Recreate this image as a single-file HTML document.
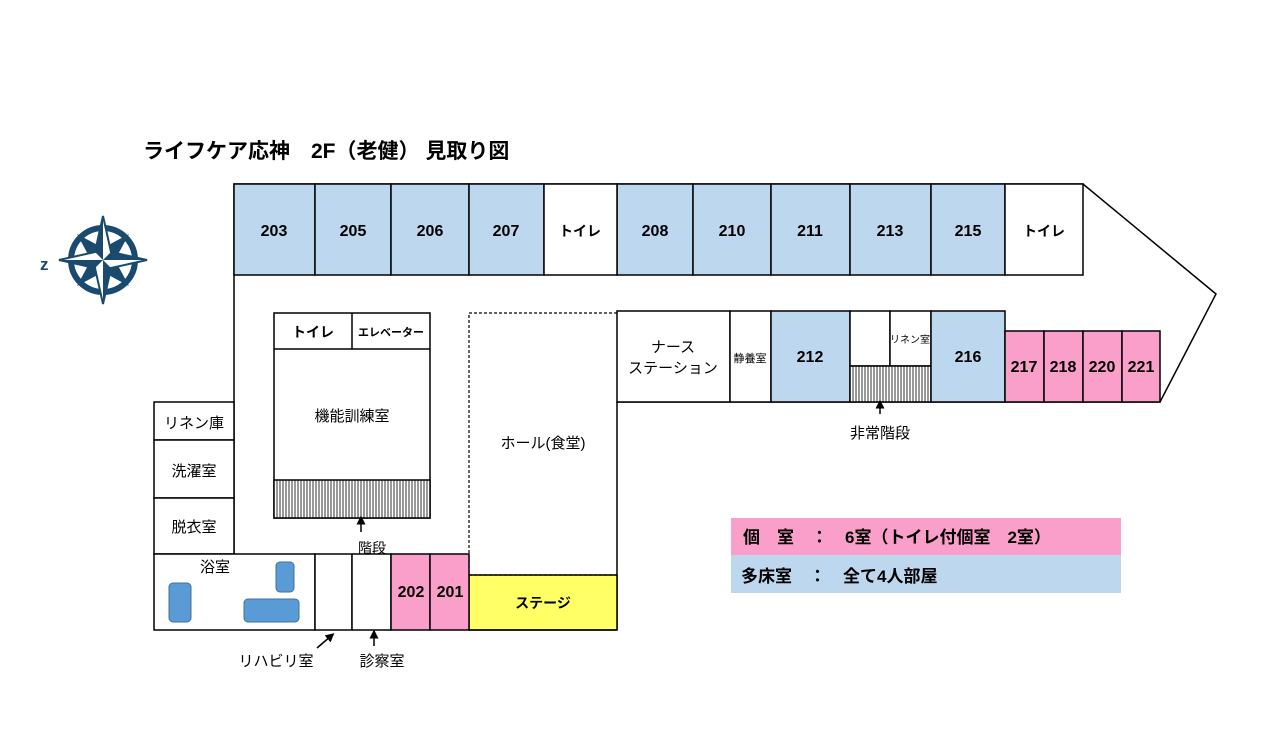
<!DOCTYPE html>
<html><head><meta charset="utf-8"><style>
html,body{margin:0;padding:0;background:#fff;}
svg text{font-family:"Liberation Sans","Noto Sans CJK JP",sans-serif;fill:#000;}
</style></head><body>
<svg width="1280" height="745" viewBox="0 0 1280 745" xmlns="http://www.w3.org/2000/svg">
<defs>
<pattern id="hat" width="3" height="4" patternUnits="userSpaceOnUse"><rect width="3" height="4" fill="#fff"/><line x1="1" y1="0" x2="1" y2="4" stroke="#333" stroke-width="1"/></pattern>
<marker id="ar" viewBox="0 0 10 10" refX="5" refY="5" markerWidth="6" markerHeight="6" orient="auto"><path d="M0,0L10,5L0,10z" fill="#000"/></marker>
</defs>
<text x="143" y="158" font-size="21" font-weight="bold">ライフケア応神　2F（老健） 見取り図</text>

<!-- compass -->
<g transform="translate(103,260)" fill="#1a4a6e">
<circle r="32" fill="#fff" stroke="#1a4a6e" stroke-width="6"/>
<polygon points="-26,-26 0,-12 26,-26 12,0 26,26 0,12 -26,26 -12,0"/>
<polygon points="0,-44 8,-8 44,0 8,8 0,44 -8,8 -44,0 -8,-8" fill="#fff" stroke="#1a4a6e" stroke-width="2"/>
<polygon points="0,-44 0,0 -8,-8"/><polygon points="44,0 0,0 8,-8"/><polygon points="0,44 0,0 8,8"/><polygon points="-44,0 0,0 -8,8"/>
</g>
<text x="40" y="270" font-size="17" font-weight="bold" style="fill:#1a4a6e">z</text>

<g stroke="#000" stroke-width="1.5">
<polyline points="234,554 234,184 1083,184 1216,294 1160,402 617,402 617,630" fill="none"/>
<g fill="#bdd7ee">
<rect x="234" y="184" width="81" height="91"/><rect x="315" y="184" width="76" height="91"/><rect x="391" y="184" width="78" height="91"/><rect x="469" y="184" width="75" height="91"/>
<rect x="617" y="184" width="76" height="91"/><rect x="693" y="184" width="78" height="91"/><rect x="771" y="184" width="79" height="91"/><rect x="850" y="184" width="81" height="91"/><rect x="931" y="184" width="74" height="91"/>
</g>
<rect x="544" y="184" width="73" height="91" fill="#fff"/><rect x="1005" y="184" width="78" height="91" fill="#fff"/>
<rect x="617" y="311" width="113" height="91" fill="#fff"/>
<rect x="730" y="311" width="41" height="91" fill="#fff"/>
<rect x="771" y="311" width="79" height="91" fill="#bdd7ee"/>
<rect x="850" y="311" width="40" height="55" fill="#fff"/>
<rect x="890" y="311" width="41" height="55" fill="#fff"/>
<rect x="850" y="366" width="81" height="36" fill="url(#hat)"/>
<rect x="931" y="311" width="74" height="91" fill="#bdd7ee"/>
<g fill="#f99fc9"><rect x="1005" y="331" width="39" height="71"/><rect x="1044" y="331" width="39" height="71"/><rect x="1083" y="331" width="39" height="71"/><rect x="1122" y="331" width="38" height="71"/></g>
<rect x="274" y="313" width="156" height="205" fill="#fff"/>
<line x1="274" y1="349" x2="430" y2="349"/><line x1="352" y1="313" x2="352" y2="349"/>
<rect x="274" y="480" width="156" height="38" fill="url(#hat)"/>
<rect x="469" y="575" width="148" height="55" fill="#ffff66"/>
<polyline points="617,313 469,313 469,575 617,575" fill="none" stroke-dasharray="3,2" stroke-width="1.2"/>
<rect x="154" y="402" width="80" height="38" fill="#fff"/><rect x="154" y="440" width="80" height="58" fill="#fff"/><rect x="154" y="498" width="80" height="56" fill="#fff"/>
<rect x="154" y="554" width="161" height="76" fill="#fff"/><rect x="315" y="554" width="37" height="76" fill="#fff"/><rect x="352" y="554" width="39" height="76" fill="#fff"/>
<rect x="391" y="554" width="39" height="76" fill="#f99fc9"/><rect x="430" y="554" width="39" height="76" fill="#f99fc9"/>
<line x1="469" y1="630" x2="617" y2="630"/>
</g>
<g fill="#5b9bd5" stroke="#41719c" stroke-width="1">
<rect x="169" y="583" width="22" height="39" rx="4"/><rect x="276" y="562" width="18" height="30" rx="4"/><rect x="244" y="599" width="55" height="23" rx="4"/>
</g>
<g stroke="#000" stroke-width="1.5" marker-end="url(#ar)">
<line x1="361" y1="532" x2="361" y2="520"/><line x1="880" y1="414" x2="880" y2="404"/>
<line x1="317" y1="648" x2="331" y2="636"/><line x1="374" y1="646" x2="374" y2="634"/>
</g>
<g font-size="16" font-weight="bold" text-anchor="middle">
<text x="274" y="236">203</text><text x="353" y="236">205</text><text x="430" y="236">206</text><text x="506" y="236">207</text>
<text x="580" y="236" font-size="14">トイレ</text>
<text x="655" y="236">208</text><text x="732" y="236">210</text><text x="810" y="236">211</text><text x="890" y="236">213</text><text x="968" y="236">215</text>
<text x="1044" y="236" font-size="14">トイレ</text>
<text x="810" y="362">212</text><text x="968" y="362">216</text>
<text x="1024" y="372">217</text><text x="1063" y="372">218</text><text x="1102" y="372">220</text><text x="1141" y="372">221</text>
<text x="411" y="597">202</text><text x="450" y="597">201</text>
<text x="543" y="608" font-size="14">ステージ</text>
<text x="313" y="337" font-size="14">トイレ</text>
<text x="391" y="336" font-size="11">エレベーター</text>
</g>
<g font-size="15" text-anchor="middle">
<text x="673" y="352">ナース</text><text x="673" y="373">ステーション</text>
<text x="750" y="362" font-size="11">静養室</text>
<text x="910" y="343" font-size="10">リネン室</text>
<text x="352" y="421">機能訓練室</text>
<text x="543" y="448">ホール(食堂)</text>
<text x="194" y="428">リネン庫</text><text x="194" y="476">洗濯室</text><text x="194" y="532">脱衣室</text>
<text x="215" y="572">浴室</text>
<text x="372" y="553" font-size="14">階段</text>
<text x="880" y="438" font-size="15">非常階段</text>
<text x="276" y="666">リハビリ室</text><text x="382" y="666">診察室</text>
</g>
<rect x="731" y="518" width="390" height="37" fill="#f99fc9"/>
<rect x="731" y="555" width="390" height="38" fill="#bdd7ee"/>
<text x="743" y="543" font-size="17" font-weight="bold">個　室　：　6室（トイレ付個室　2室）</text>
<text x="741" y="582" font-size="17" font-weight="bold">多床室　：　全て4人部屋</text>
</svg>
</body></html>
